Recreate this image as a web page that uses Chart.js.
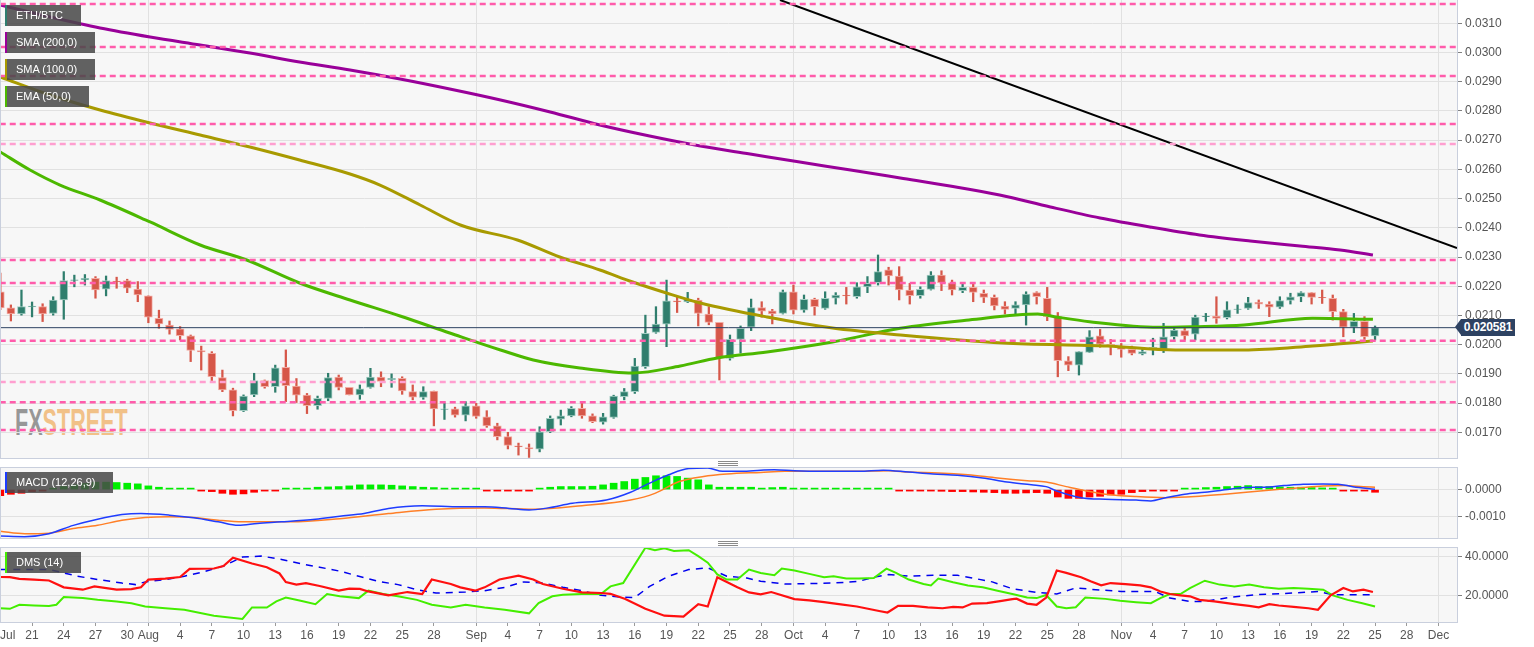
<!DOCTYPE html>
<html><head><meta charset="utf-8">
<script src="https://cdn.jsdelivr.net/npm/chart.js"></script>
<style>
html,body{margin:0;padding:0;background:#fff;width:1534px;height:647px;overflow:hidden;font-family:"Liberation Sans",Arial,Helvetica,sans-serif;}
.abs{position:absolute;}
canvas{position:absolute;left:0;display:block;}
.bg{position:absolute;left:0;width:1457px;background:#f7f7f7;}
.frame{position:absolute;left:0;width:1458px;border:1px solid #c9cfdd;box-sizing:border-box;pointer-events:none;}
.tag{position:absolute;left:5px;height:21px;line-height:21px;background:rgba(72,72,72,0.86);color:#fff;font-size:11px;padding-left:9px;box-sizing:border-box;border-left:2px solid;white-space:nowrap;}
.handle{position:absolute;left:718px;width:20px;height:1px;background:#8a8a8a;}
#wm{position:absolute;left:15px;top:402px;font-size:36px;font-weight:bold;transform:scaleX(0.6);transform-origin:0 0;letter-spacing:0px;white-space:nowrap;}
#ptag{position:absolute;left:1461px;top:319px;width:54px;height:17px;line-height:17px;background:#2d4262;color:#fff;font-size:12px;font-weight:bold;text-align:center;letter-spacing:-0.2px;}
#parrow{position:absolute;left:1455px;top:319px;width:0;height:0;border-top:8.5px solid transparent;border-bottom:8.5px solid transparent;border-right:6px solid #2d4262;}
</style></head>
<body>
<div class="bg" style="top:0;height:458px"></div>
<div class="bg" style="top:467px;height:71px"></div>
<div class="bg" style="top:547px;height:75px"></div>
<div id="wm"><span style="color:rgba(120,120,120,0.75)">FX</span><span style="color:rgba(240,175,100,0.75)">STREET</span></div>
<canvas id="cMain" width="1534" height="458" style="top:0"></canvas>
<canvas id="cMacd" width="1534" height="71" style="top:467px"></canvas>
<canvas id="cDms" width="1534" height="100" style="top:547px"></canvas>
<div class="frame" style="top:-1px;height:460px"></div>
<div class="frame" style="top:467px;height:72px"></div>
<div class="frame" style="top:547px;height:76px"></div>
<div class="handle" style="top:461px"></div><div class="handle" style="top:463px"></div><div class="handle" style="top:465px"></div>
<div class="handle" style="top:541px"></div><div class="handle" style="top:543px"></div><div class="handle" style="top:545px"></div>
<div class="tag" style="top:5px;width:76px;border-color:#2e7d6e">ETH/BTC</div>
<div class="tag" style="top:32px;width:90px;border-color:#990099">SMA (200,0)</div>
<div class="tag" style="top:59px;width:90px;border-color:#a89a00">SMA (100,0)</div>
<div class="tag" style="top:86px;width:84px;border-color:#4cb800">EMA (50,0)</div>
<div class="tag" style="top:472px;width:108px;border-color:#1c3cff">MACD (12,26,9)</div>
<div class="tag" style="top:552px;width:76px;border-color:#44ee00">DMS (14)</div>
<div id="parrow"></div><div id="ptag">0.020581</div>
<script>
// ---------------- DATA ----------------
// day index 0 = Jul 18; one candle per day up to Nov 25 (index 130)
const candleOpen = [0.02181,0.02126,0.02105,0.02129,0.02130,0.02107,0.02153,0.02220,0.02222,0.02227,
0.02190,0.02218,0.02219,0.02190,0.02167,0.02090,0.02067,0.02054,0.02030,0.01980,
0.01970,0.01887,0.01845,0.01774,0.01828,0.01877,0.01856,0.01922,0.01858,0.01827,
0.01791,0.01816,0.01889,0.01854,0.01828,0.01854,0.01889,0.01880,0.01885,0.01839,
0.01819,0.01841,0.01778,0.01780,0.01759,0.01791,0.01753,0.01722,0.01685,0.01654,
0.01648,0.01642,0.01702,0.01745,0.01756,0.01782,0.01756,0.01735,0.01751,0.01822,
0.01839,0.01925,0.02042,0.02070,0.02150,0.02146,0.02153,0.02105,0.02076,0.01953,
0.02018,0.02060,0.02127,0.02116,0.02107,0.02181,0.02118,0.02155,0.02124,0.02159,
0.02170,0.02164,0.02198,0.02212,0.02256,0.02235,0.02187,0.02168,0.02189,0.02238,
0.02212,0.02185,0.02196,0.02176,0.02162,0.02132,0.02124,0.02136,0.02178,0.02159,
0.02096,0.01945,0.01930,0.01973,0.02030,0.02001,0.01995,0.01984,0.01968,0.01984,
0.01984,0.02027,0.02048,0.02036,0.02096,0.02098,0.02092,0.02121,0.02124,0.02145,
0.02139,0.02128,0.02151,0.02164,0.02178,0.02162,0.02159,0.02113,0.02060,0.02080,
0.02030];
const candleHigh = [0.02245,0.02136,0.02187,0.02146,0.02140,0.02164,0.02250,0.02238,0.02240,0.02233,
0.02235,0.02231,0.02224,0.02216,0.02167,0.02118,0.02081,0.02062,0.02033,0.01995,
0.01976,0.01913,0.01851,0.01828,0.01902,0.01879,0.01930,0.01982,0.01884,0.01833,
0.01824,0.01902,0.01896,0.01854,0.01862,0.01919,0.01907,0.01900,0.01890,0.01862,
0.01856,0.01841,0.01800,0.01786,0.01805,0.01799,0.01774,0.01731,0.01700,0.01663,
0.01660,0.01719,0.01756,0.01776,0.01788,0.01799,0.01763,0.01765,0.01827,0.01850,
0.01953,0.02101,0.02130,0.02221,0.02164,0.02179,0.02159,0.02130,0.02076,0.02033,
0.02064,0.02156,0.02147,0.02121,0.02187,0.02204,0.02170,0.02159,0.02181,0.02178,
0.02196,0.02212,0.02233,0.02307,0.02265,0.02267,0.02210,0.02198,0.02250,0.02253,
0.02221,0.02208,0.02208,0.02187,0.02170,0.02147,0.02147,0.02181,0.02181,0.02196,
0.02110,0.01959,0.01976,0.02048,0.02052,0.02018,0.02004,0.01995,0.01987,0.02022,
0.02073,0.02059,0.02056,0.02101,0.02107,0.02164,0.02147,0.02136,0.02162,0.02153,
0.02147,0.02164,0.02176,0.02181,0.02178,0.02187,0.02170,0.02121,0.02107,0.02096,
0.02064];
const candleLow = [0.02120,0.02081,0.02101,0.02095,0.02079,0.02101,0.02087,0.02198,0.02204,0.02159,
0.02167,0.02193,0.02178,0.02147,0.02075,0.02056,0.02036,0.02016,0.01942,0.01913,
0.01877,0.01839,0.01756,0.01771,0.01822,0.01851,0.01837,0.01805,0.01802,0.01764,
0.01779,0.01808,0.01845,0.01828,0.01813,0.01851,0.01856,0.01854,0.01830,0.01811,
0.01813,0.01722,0.01744,0.01752,0.01739,0.01748,0.01717,0.01674,0.01643,0.01622,
0.01614,0.01633,0.01699,0.01725,0.01753,0.01748,0.01733,0.01728,0.01748,0.01811,
0.01833,0.01919,0.02039,0.01993,0.02110,0.02144,0.02064,0.02068,0.01879,0.01947,
0.01971,0.02048,0.02094,0.02071,0.02105,0.02105,0.02111,0.02101,0.02121,0.02139,
0.02139,0.02159,0.02178,0.02204,0.02204,0.02153,0.02139,0.02159,0.02187,0.02185,
0.02170,0.02178,0.02147,0.02144,0.02119,0.02105,0.02102,0.02067,0.02139,0.02082,
0.01890,0.01911,0.01896,0.01973,0.01991,0.01965,0.01957,0.01965,0.01965,0.01965,
0.01973,0.02018,0.02016,0.02016,0.02080,0.02073,0.02088,0.02107,0.02121,0.02124,
0.02096,0.02124,0.02139,0.02147,0.02139,0.02141,0.02084,0.02027,0.02041,0.02018,
0.02016];
const candleClose = [0.02126,0.02105,0.02130,0.02132,0.02105,0.02153,0.02219,0.02222,0.02227,0.02187,
0.02219,0.02215,0.02193,0.02170,0.02094,0.02071,0.02052,0.02031,0.01980,0.01975,
0.01890,0.01845,0.01774,0.01824,0.01877,0.01856,0.01921,0.01860,0.01827,0.01791,
0.01816,0.01887,0.01854,0.01828,0.01849,0.01889,0.01874,0.01885,0.01842,0.01820,
0.01839,0.01780,0.01780,0.01759,0.01791,0.01754,0.01722,0.01685,0.01655,0.01650,
0.01643,0.01702,0.01748,0.01756,0.01782,0.01756,0.01736,0.01753,0.01824,0.01839,
0.01927,0.02039,0.02070,0.02150,0.02146,0.02155,0.02107,0.02076,0.01953,0.02018,
0.02056,0.02127,0.02115,0.02105,0.02181,0.02118,0.02155,0.02130,0.02159,0.02170,
0.02167,0.02198,0.02210,0.02250,0.02235,0.02187,0.02168,0.02189,0.02238,0.02212,
0.02187,0.02196,0.02179,0.02162,0.02133,0.02121,0.02136,0.02173,0.02164,0.02096,
0.01945,0.01930,0.01976,0.02027,0.02002,0.01995,0.01984,0.01970,0.01976,0.01991,
0.02027,0.02050,0.02030,0.02094,0.02098,0.02090,0.02119,0.02122,0.02144,0.02139,
0.02128,0.02151,0.02164,0.02178,0.02162,0.02160,0.02113,0.02060,0.02080,0.02027,
0.020581];
const lastPrice = 0.020581;

// moving averages: [day, value]
const sma200 = [[0,0.031626],[4.7,0.031216],[9.43,0.030839],[14.16,0.030531],[18.9,0.030257],[23.6,0.029983],[28.3,0.029675],[33.07,0.029401],[37.8,0.029093],[42.5,0.028751],[47.3,0.028375],[52.0,0.027964],[56.7,0.027519],[61.4,0.027142],[66.2,0.026800],[70.9,0.026526],[75.6,0.026252],[80.4,0.025978],[85.1,0.025705],[89.8,0.025431],[94.5,0.025123],[99.3,0.024712],[104.0,0.024336],[108.7,0.024028],[113.4,0.023754],[118.2,0.023548],[122.9,0.023377],[126.7,0.023240],[129.8,0.023069]];
const sma100 = [[0,0.029162],[4.7,0.028546],[9.43,0.028032],[14.16,0.027587],[18.9,0.027176],[23.6,0.026766],[28.3,0.026321],[33.07,0.025842],[35.9,0.025465],[39.7,0.024781],[43.5,0.024096],[48.9,0.023583],[52.9,0.023001],[56.7,0.022556],[59.8,0.022145],[63.0,0.021768],[66.2,0.021426],[72.5,0.020947],[78.7,0.020570],[85.1,0.020332],[94.8,0.020058],[104.7,0.019955],[111.1,0.019817],[117.6,0.019817],[124.1,0.019955],[129.8,0.020126]];
const ema50 = [[0,0.026595],[2.81,0.025979],[5.65,0.025465],[9.43,0.024952],[14.16,0.024199],[18.9,0.023412],[23.3,0.022898],[28.3,0.022111],[33.07,0.021529],[37.8,0.020981],[42.5,0.020400],[47.3,0.019818],[50.4,0.019475],[54.8,0.019202],[59.8,0.019030],[64.3,0.019270],[67.8,0.019544],[72.5,0.019749],[78.7,0.020091],[85.1,0.020560],[91.6,0.020844],[98.1,0.021049],[99.7,0.020957],[103.0,0.020786],[109.5,0.020594],[112.8,0.020615],[117.6,0.020673],[124.1,0.020902],[129.8,0.020868]];
const trendLine = [[73.73,0.031798],[137.75,0.023308]];
const levels = [0.03166,0.03019,0.02920,0.02755,0.02687,0.02290,0.02211,0.02013,0.01872,0.01803,0.01708];

// MACD (12,26,9)
const macdHist = [-0.000226,-0.000175,-0.000138,-0.000075,-0.000025,0.00005,0.000113,0.000175,0.000226,0.000276,
0.000276,0.000263,0.000238,0.000213,0.000138,0.000088,0.00005,0.000013,0.000005,-0.000005,
-0.000075,-0.000138,-0.000175,-0.00016,-0.0001,-0.00005,-0.00001,0.000006,0.000013,0.000025,
0.000088,0.0001,0.000113,0.000138,0.000175,0.000175,0.000175,0.000163,0.000138,0.000113,
0.000088,0.000075,0.00005,0.00005,0.000038,0.000013,-0.000006,-0.000025,-0.00005,-0.000025,
-0.000006,0.000025,0.000088,0.000113,0.000113,0.000113,0.000125,0.000175,0.000238,0.0003,
0.000388,0.000451,0.000514,0.000514,0.000489,0.000426,0.000363,0.000175,0.000088,0.000088,
0.000088,0.000088,0.00005,0.000075,0.000088,0.00005,0.000025,0.000013,0.000013,0.000006,
0.000006,0.000013,0.000013,0.000025,0.000025,-0.000006,-0.000038,-0.00005,-0.00005,-0.000063,
-0.000075,-0.000075,-0.000088,-0.0001,-0.000113,-0.000138,-0.000138,-0.000125,-0.000113,-0.000138,
-0.000276,-0.000326,-0.000326,-0.000276,-0.00025,-0.0002,-0.000175,-0.000113,-0.000075,-0.00005,
-0.000025,-0.000006,0.000013,0.00005,0.000075,0.000088,0.000113,0.000125,0.00015,0.000113,
0.000113,0.0001,0.000088,0.000088,0.000075,0.000063,0.000038,-0.000006,-0.000019,-0.00005,
-0.0001];
const macdLine = [[0,-0.00173],[2.3,-0.00175],[4.6,-0.00164],[6.9,-0.00133],[9.2,-0.0011],[11.5,-0.00093],[13.3,-0.00089],[16,-0.00095],[18.3,-0.00105],[20.6,-0.0012],[22.5,-0.00133],[24.3,-0.00126],[26.6,-0.0012],[29.8,-0.0011],[32.1,-0.00099],[34.4,-0.00089],[36.7,-0.0007],[39.9,-0.0006],[43.5,-0.00064],[45.8,-0.00064],[48.1,-0.0007],[50,-0.00076],[51.8,-0.00068],[54.1,-0.00051],[57.3,-0.00039],[59.6,-0.0001],[61.4,0.00024],[63.2,0.00055],[65.1,0.00078],[66.9,0.0008],[68.3,0.00068],[70.1,0.00068],[71.9,0.00072],[73.2,0.00074],[75.1,0.0007],[77.9,0.00068],[81.2,0.00068],[83.5,0.00072],[85.9,0.00065],[88.2,0.00058],[90.5,0.00053],[92.9,0.00043],[95.2,0.00028],[97.5,0.00018],[98.9,0.00011],[99.9,-0.00005],[102.2,-0.0003],[104.5,-0.00036],[107.4,-0.00039],[108.8,-0.00042],[110.2,-0.0003],[112,-0.00017],[113.9,-0.0001],[115.8,-0.00001],[117.6,0.00008],[119.5,0.00009],[121.4,0.00015],[123.2,0.0002],[125.1,0.00021],[126.5,0.0002],[127.9,0.00011],[130,0.00001]];
const signalLine = [[0,-0.00155],[2.3,-0.00164],[4.6,-0.00162],[6.9,-0.00145],[9.2,-0.00133],[11.5,-0.00114],[13.7,-0.00104],[16,-0.00101],[18.3,-0.00104],[20.6,-0.00114],[22.9,-0.0012],[25.2,-0.0012],[27.5,-0.0012],[32.1,-0.00108],[36.7,-0.00089],[41.2,-0.00073],[45.8,-0.00068],[50.4,-0.00073],[55,-0.0006],[59.6,-0.00039],[61.9,-0.00014],[64.2,0.0003],[66.5,0.00049],[68.7,0.00058],[71.9,0.00064],[74.2,0.00068],[76.5,0.00068],[81.2,0.00068],[84,0.0007],[85.9,0.00065],[88.7,0.00062],[91.5,0.00055],[94.3,0.00043],[97.1,0.00033],[98.9,0.00028],[100.8,0.00011],[102.7,-0.00005],[104.5,-0.00017],[107.4,-0.00026],[110.2,-0.0003],[113,-0.00026],[115.8,-0.00017],[118.6,-0.00007],[121,0.00001],[123.2,0.00008],[125.1,0.00013],[127,0.00015],[128.9,0.00011],[130,0.00009]];

// DMS (14)
const diPlus = [[0,13.6],[0.9,13.3],[1.8,15.4],[3.2,15.0],[4.6,14.7],[5.3,15.4],[6.0,19.3],[7.8,18.8],[9.2,17.9],[11.0,17.1],[12.4,16.2],[13.7,14.5],[15.6,13.6],[17.4,12.8],[20.2,9.8],[22.9,8.1],[23.8,14.0],[25.2,14.0],[26.1,17.1],[27.0,19.1],[28.4,17.4],[29.8,15.7],[30.9,20.9],[32.1,19.7],[33.9,18.8],[34.8,22.6],[36.2,20.9],[37.6,19.7],[39.4,17.9],[40.8,15.4],[42.6,14.0],[44.0,15.4],[45.8,14.0],[47.7,12.8],[50.0,11.0],[50.9,16.2],[52.2,19.7],[53.2,20.5],[55.0,20.9],[56.8,20.9],[57.7,24.8],[58.9,26.5],[61.0,44.6],[61.9,43.3],[62.8,44.3],[63.7,42.9],[65.1,43.3],[66.0,40.3],[66.9,36.9],[67.8,30.9],[68.7,28.3],[69.7,28.3],[70.8,33.4],[71.9,31.7],[73.2,30.5],[73.9,33.9],[75.1,32.9],[76.5,31.2],[77.9,29.5],[78.8,30.0],[80.0,28.8],[81.2,28.8],[82.6,29.1],[83.8,33.9],[84.7,31.7],[85.9,28.3],[87.3,26.0],[88.0,25.3],[88.7,28.8],[90.1,26.9],[91.5,25.3],[92.9,24.3],[94.3,22.6],[95.7,20.9],[97.1,19.1],[98.0,18.8],[98.9,20.4],[99.9,14.5],[100.8,13.6],[101.7,14.1],[102.6,19.1],[104.5,18.4],[105.9,17.4],[107.4,16.7],[108.8,16.2],[109.7,18.8],[110.6,20.9],[111.6,20.9],[112.5,23.9],[113.9,27.7],[115.3,25.7],[116.7,24.8],[118.1,25.7],[119.5,24.3],[120.9,23.6],[122.3,24.0],[123.7,23.6],[125.1,23.1],[126.0,20.2],[127.4,17.9],[128.8,16.2],[130.0,14.5]];
const diMinus = [[0,29.6],[0.9,29.5],[1.8,28.6],[3.2,28.3],[4.6,27.8],[6.0,24.3],[7.8,23.1],[8.9,24.8],[11.0,23.1],[12.4,23.4],[13.3,24.3],[14.0,28.3],[15.6,28.8],[17.0,29.6],[17.9,33.8],[20.2,33.95],[21.1,35.2],[22.0,39.5],[23.8,36.5],[25.2,34.6],[26.4,31.4],[27.0,27.0],[28.0,25.7],[28.9,26.5],[30.2,25.0],[32.0,22.6],[33.0,23.6],[34.0,23.5],[34.8,22.2],[36.7,20.2],[38.5,21.9],[39.9,20.9],[40.8,28.3],[42.6,26.0],[43.5,24.3],[44.9,22.6],[45.8,24.3],[47.2,28.3],[49.0,30.3],[50.4,28.3],[51.3,26.0],[53.2,23.6],[55.0,21.7],[56.8,21.4],[57.7,21.0],[59.1,18.3],[61.0,13.3],[62.8,9.8],[64.6,9.3],[66.0,15.7],[66.9,14.5],[67.8,29.5],[69.7,24.3],[70.8,21.7],[71.9,20.7],[72.9,21.9],[75.1,18.3],[76.5,17.6],[77.9,16.7],[79.3,15.7],[81.0,14.5],[83.1,12.2],[83.9,11.4],[84.9,14.8],[86.3,14.8],[87.7,14.0],[89.1,13.6],[90.1,14.3],[91.0,14.0],[91.9,16.0],[93.3,16.2],[94.7,17.4],[95.7,18.3],[96.1,18.5],[97.1,16.0],[98.0,15.4],[98.9,19.1],[99.9,32.9],[100.8,31.7],[102.2,29.5],[103.1,27.4],[104.1,25.3],[105.0,26.5],[106.4,26.0],[107.8,25.3],[108.8,24.3],[109.7,22.2],[110.6,20.9],[111.6,20.2],[112.5,19.7],[113.4,17.9],[114.8,17.1],[116.7,15.7],[118.1,14.8],[119.0,14.1],[120.0,15.7],[120.9,15.0],[122.3,14.3],[123.7,13.6],[124.6,12.8],[125.8,20.2],[127.0,24.0],[127.9,22.2],[128.9,23.1],[129.8,21.9]];
const adx = [[0,33.4],[4.6,33.4],[6.0,31.7],[7.3,30.0],[9.2,28.3],[11.5,26.5],[12.8,25.7],[13.7,27.1],[15.6,28.3],[17.4,30.0],[19.2,32.2],[21.1,35.2],[22.9,39.8],[24.7,40.3],[26.6,38.6],[28.4,36.4],[30.2,34.6],[32.1,32.6],[33.9,30.0],[35.7,27.4],[37.6,25.7],[39.4,23.1],[41.2,21.4],[44.0,21.9],[45.8,22.6],[47.7,24.3],[49.5,27.1],[51.3,26.5],[53.2,24.3],[55.0,22.6],[56.8,20.2],[58.7,19.3],[60.0,19.1],[61.4,24.8],[63.2,30.0],[65.1,33.4],[66.9,34.3],[68.7,30.0],[70.6,29.1],[71.9,27.4],[74.2,26.0],[78.8,26.5],[81.2,27.4],[82.6,29.5],[84.0,30.9],[85.9,30.0],[88.2,30.5],[90.5,30.5],[91.9,29.1],[93.8,27.1],[95.7,23.6],[98.0,21.7],[99.9,20.9],[101.7,24.0],[103.6,23.1],[106.0,22.2],[109.2,22.2],[110.6,18.8],[112.5,17.1],[113.9,17.1],[116.2,19.1],[118.6,20.5],[122.3,21.4],[124.6,22.2],[126.0,20.5],[130.0,20.5]];

// axis ticks
const xTickDays = [0.7,3,6,9,12,14,17,20,23,26,29,32,35,38,41,45,48,51,54,57,60,63,66,69,72,75,78,81,84,87,90,93,96,99,102,106,109,112,115,118,121,124,127,130,133,136];
const xTickLabels = ['Jul','21','24','27','30','Aug','4','7','10','13','16','19','22','25','28','Sep','4','7','10','13','16','19','22','25','28','Oct','4','7','10','13','16','19','22','25','28','Nov','4','7','10','13','16','19','22','25','28','Dec'];
const monthStartDays = [14,45,75,106,136];
const priceTicks = [0.017,0.018,0.019,0.020,0.021,0.022,0.023,0.024,0.025,0.026,0.027,0.028,0.029,0.030,0.031];
const macdTicks = [-0.001,0];
const dmsTicks = [20,40];

// ---------------- CHARTS ----------------
const FONT = '"Liberation Sans", Arial, Helvetica, sans-serif';
Chart.defaults.font.family = FONT;
Chart.defaults.font.size = 12;
Chart.defaults.color = '#555';
Chart.defaults.animation = false;
const X_MIN = -0.03, X_MAX = 137.75;
const pts = arr => arr.map(p => ({x:p[0], y:p[1]}));

function xAxis(showLabels){
  return {
    type:'linear', min:X_MIN, max:X_MAX, offset:false,
    afterBuildTicks(s){ s.ticks = xTickDays.map(v => ({value:v})); },
    afterFit(s){ s.height = showLabels ? 25 : 0; s.paddingLeft = 0; s.paddingRight = 0; },
    ticks:{display:showLabels, autoSkip:false, maxRotation:0, minRotation:0, padding:2, color:'#555', font:{size:12}, callback:(v,i) => xTickLabels[i]},
    grid:{offset:false, drawTicks:showLabels, tickLength:4,
      tickColor: ctx => (ctx.index === 0 ? 'rgba(0,0,0,0)' : '#9a9a9a'),
      color: ctx => (ctx.tick && monthStartDays.includes(ctx.tick.value)) ? '#e1e1e1' : 'rgba(0,0,0,0)'},
    border:{display:false}
  };
}
function yAxis(min, max, tickVals, fmt){
  return {
    position:'right', min, max,
    afterBuildTicks(s){ s.ticks = tickVals.map(v => ({value:v})); },
    afterFit(s){ s.width = 77; s.paddingTop = 0; s.paddingBottom = 0; },
    ticks:{padding:3, color:'#555', font:{size:12}, callback:v => fmt(v)},
    grid:{color:'#e1e1e1', drawTicks:true, tickLength:5, tickColor:'#808080'},
    border:{display:false}
  };
}
const baseOpts = {responsive:false, devicePixelRatio:1, animation:false, events:[],
  layout:{padding:0}, plugins:{legend:{display:false}, tooltip:{enabled:false}}};

// main price chart
const up = candleOpen.map((o,i) => candleClose[i] >= o);
const lightLevels = [0.02687, 0.01872];
const mainDatasets = [];
levels.forEach(L => mainDatasets.push({type:'line', data:[{x:-1,y:L},{x:140,y:L}],
  borderColor: lightLevels.includes(L) ? '#ff9fd0' : '#ff5cab', borderWidth:2.5, borderDash:[6,4],
  pointRadius:0, order:1}));
mainDatasets.push({type:'line', data:[{x:-1,y:lastPrice},{x:140,y:lastPrice}], borderColor:'#2d4262', borderWidth:1, pointRadius:0, order:2});
mainDatasets.push({type:'line', data:pts(sma200), borderColor:'#990099', borderWidth:3, pointRadius:0, tension:0.4, cubicInterpolationMode:'monotone', order:3});
mainDatasets.push({type:'line', data:pts(sma100), borderColor:'#a89a00', borderWidth:3, pointRadius:0, tension:0.4, cubicInterpolationMode:'monotone', order:3});
mainDatasets.push({type:'line', data:pts(ema50), borderColor:'#4cb800', borderWidth:3, pointRadius:0, tension:0.4, cubicInterpolationMode:'monotone', order:3});
mainDatasets.push({type:'line', data:pts(trendLine), borderColor:'#000', borderWidth:2, pointRadius:0, order:4});
mainDatasets.push({type:'bar', data:candleOpen.map((o,i) => ({x:i, y:[o, candleClose[i]]})),
  backgroundColor: up.map(u => u ? '#2f7e6d' : '#d65749'),
  borderColor: up.map(u => u ? '#a3cdc3' : '#f3aca4'),
  borderWidth:1, borderSkipped:false, barThickness:8, grouped:false, order:5});
mainDatasets.push({type:'bar', data:candleLow.map((l,i) => ({x:i, y:[l, candleHigh[i]]})),
  backgroundColor: up.map(u => u ? '#2f7e6d' : '#d65749'),
  borderWidth:0, barThickness:1.6, grouped:false, order:6});

new Chart(document.getElementById('cMain'), {
  type:'bar', data:{datasets:mainDatasets},
  options:{...baseOpts, scales:{x:xAxis(false), y:yAxis(0.016120, 0.031798, priceTicks, v => v.toFixed(4))}}
});

// MACD
new Chart(document.getElementById('cMacd'), {
  type:'bar',
  data:{datasets:[
    {type:'line', data:pts(macdLine), borderColor:'#1f3dff', borderWidth:1.5, pointRadius:0, tension:0.4, cubicInterpolationMode:'monotone', order:1},
    {type:'line', data:pts(signalLine), borderColor:'#ff7f27', borderWidth:1.5, pointRadius:0, tension:0.4, cubicInterpolationMode:'monotone', order:1},
    {type:'bar', data:macdHist.map((v,i) => ({x:i, y:v})), backgroundColor: macdHist.map(v => v >= 0 ? '#00ee00' : '#ff0000'),
     barThickness:7, minBarLength:1.5, grouped:false, order:2}
  ]},
  options:{...baseOpts, scales:{x:xAxis(false), y:yAxis(-0.0018, 0.00084, macdTicks, v => v.toFixed(4))}}
});

// DMS
new Chart(document.getElementById('cDms'), {
  type:'line',
  data:{datasets:[
    {data:pts(adx), borderColor:'#0000ee', borderWidth:1.5, borderDash:[7,6], pointRadius:0, tension:0, order:3},
    {data:pts(diPlus), borderColor:'#44ee00', borderWidth:2, pointRadius:0, tension:0, order:2},
    {data:pts(diMinus), borderColor:'#ff1010', borderWidth:2.2, pointRadius:0, tension:0, order:1}
  ]},
  options:{...baseOpts, scales:{x:xAxis(true), y:yAxis(6.56, 44.96, dmsTicks, v => v.toFixed(4))}}
});
</script>
</body></html>
